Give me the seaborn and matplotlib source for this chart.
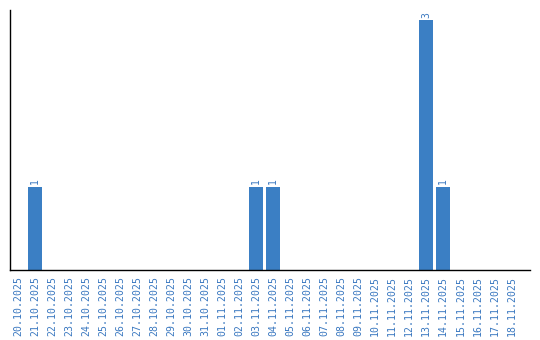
import matplotlib
matplotlib.use("Agg")
import matplotlib.pyplot as plt
import seaborn as sns
import pandas as pd

dates = ["20.10.2025", "21.10.2025", "22.10.2025", "23.10.2025", "24.10.2025",
         "25.10.2025", "26.10.2025", "27.10.2025", "28.10.2025", "29.10.2025",
         "30.10.2025", "31.10.2025", "01.11.2025", "02.11.2025", "03.11.2025",
         "04.11.2025", "05.11.2025", "06.11.2025", "07.11.2025", "08.11.2025",
         "09.11.2025", "10.11.2025", "11.11.2025", "12.11.2025", "13.11.2025",
         "14.11.2025", "15.11.2025", "16.11.2025", "17.11.2025", "18.11.2025"]
counts = [0, 1, 0, 0, 0, 0, 0, 0, 0, 0,
          0, 0, 0, 0, 1, 1, 0, 0, 0, 0,
          0, 0, 0, 0, 3, 1, 0, 0, 0, 0]

df = pd.DataFrame({"date": dates, "count": counts})

sns.set_style("white")
plt.rcParams['font.family'] = ['DejaVu Sans Mono', 'DejaVu Sans']

blue = "#3b7fc4"
text_blue = "#3a78c0"

fig = plt.figure(figsize=(5.4, 3.4), dpi=100)
ax = fig.add_axes([10/540, 70/340, 520/540, 260/340])
sns.barplot(data=df, x="date", y="count", color=blue, saturation=1, width=0.82,
            linewidth=0, edgecolor="none", ax=ax)

for p, v in zip(ax.patches, counts):
    if v > 0:
        ax.text(p.get_x() + p.get_width() / 2, v + 0.03, str(v), rotation=90,
                ha="center", va="bottom", fontsize=7, color=text_blue)

ax.set_ylim(0, 3.12)
ax.set_xlim(-0.47, 30.1)
ax.set_yticks([])
ax.set_xlabel("")
ax.set_ylabel("")
ax.tick_params(axis="x", length=0, pad=4, labelsize=7.1, labelcolor=text_blue)
plt.setp(ax.get_xticklabels(), rotation=90)
for s in ["top", "right"]:
    ax.spines[s].set_visible(False)
for s in ["left", "bottom"]:
    ax.spines[s].set_color("black")
    ax.spines[s].set_linewidth(1.0)

fig.savefig("out.png", dpi=100)
